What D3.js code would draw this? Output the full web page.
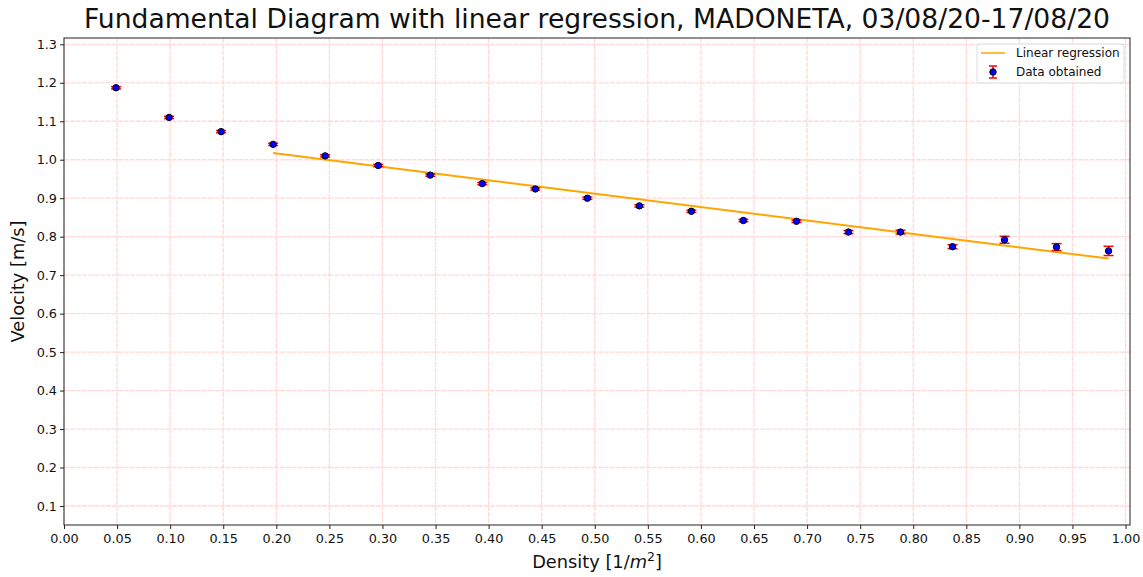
<!DOCTYPE html>
<html>
<head>
<meta charset="utf-8">
<script src="https://cdn.jsdelivr.net/npm/d3@7"></script>
<style>
  body { margin: 0; background: #fff; }
  text { font-family: "DejaVu Sans", sans-serif; fill: #111; }
</style>
</head>
<body>
<svg width="1143" height="577"></svg>
<script>
// density [1/m^2]
let density = [0.049, 0.099, 0.148, 0.197, 0.246, 0.296, 0.345, 0.394, 0.444, 0.493,
               0.542, 0.591, 0.640, 0.690, 0.739, 0.788, 0.837, 0.886, 0.935, 0.984];
// velocity [m/s]
let velocity = [1.187, 1.110, 1.073, 1.040, 1.010, 0.985, 0.960, 0.938, 0.924, 0.900,
                0.880, 0.866, 0.842, 0.840, 0.812, 0.812, 0.774, 0.792, 0.773, 0.763];
let velErr = [0.003, 0.003, 0.003, 0.003, 0.003, 0.003, 0.003, 0.003, 0.003, 0.003,
              0.003, 0.003, 0.003, 0.003, 0.004, 0.005, 0.005, 0.009, 0.009, 0.012];
// regression line end points
let regX = [0.197, 0.984];
let regY = [1.0176, 0.743];

let xTicks = d3.range(0, 21).map(i => i * 0.05);
let yTicks = d3.range(1, 14).map(i => i / 10);

let margin = {top: 38, right: 13, bottom: 52, left: 64};
let width = 1143 - margin.left - margin.right;
let height = 577 - margin.top - margin.bottom;

let scale = {
  x: d3.scaleLinear().domain([0, 1.0042]).range([0, width]),
  y: d3.scaleLinear().domain([0.0506, 1.3164]).range([height, 0])
};

let svg = d3.select("svg")
  .append("g")
    .attr("transform", "translate(" + margin.left + "," + margin.top + ")");

// grid
let gridStyle = g => g.attr("stroke", "#ffdada").attr("stroke-width", 1.3)
  .attr("stroke-dasharray", "5,1");
svg.append("g").selectAll("line").data(xTicks).enter().append("line")
  .attr("x1", d => scale.x(d)).attr("x2", d => scale.x(d))
  .attr("y1", 0).attr("y2", height)
  .call(gridStyle);
svg.append("g").selectAll("line").data(yTicks).enter().append("line")
  .attr("x1", 0).attr("x2", width)
  .attr("y1", d => scale.y(d)).attr("y2", d => scale.y(d))
  .call(gridStyle);

// axes
let axes = {
  x: d3.axisBottom(scale.x).tickValues(xTicks).tickFormat(d3.format(".2f")).tickSize(4).tickPadding(3),
  y: d3.axisLeft(scale.y).tickValues(yTicks).tickFormat(d3.format(".1f")).tickSize(4).tickPadding(3)
};
let gx = svg.append("g").attr("transform", "translate(0," + height + ")").call(axes.x);
let gy = svg.append("g").call(axes.y);
[gx, gy].forEach(g => {
  g.select(".domain").remove();
  g.selectAll("text").style("font-family", "DejaVu Sans").style("font-size", "12.8px").attr("fill", "#111");
  g.selectAll("line").attr("stroke", "#222");
});
gx.selectAll("text").attr("dy", "0.85em");

// frame
svg.append("rect")
  .attr("width", width).attr("height", height)
  .attr("fill", "none").attr("stroke", "#222").attr("stroke-width", 1);

// regression line
svg.append("line")
  .attr("x1", scale.x(regX[0])).attr("y1", scale.y(regY[0]))
  .attr("x2", scale.x(regX[1])).attr("y2", scale.y(regY[1]))
  .attr("stroke", "orange").attr("stroke-width", 2);

// error bars
let pts = density.map((d, i) => ({x: d, y: velocity[i], e: velErr[i]}));
let eb = svg.append("g").selectAll("g").data(pts).enter().append("g")
  .attr("stroke", "red").attr("stroke-width", 1.5);
eb.append("line")
  .attr("x1", d => scale.x(d.x)).attr("x2", d => scale.x(d.x))
  .attr("y1", d => scale.y(d.y - d.e)).attr("y2", d => scale.y(d.y + d.e));
[-1, 1].forEach(s => {
  eb.append("line")
    .attr("x1", d => scale.x(d.x) - 5).attr("x2", d => scale.x(d.x) + 5)
    .attr("y1", d => scale.y(d.y + s * d.e)).attr("y2", d => scale.y(d.y + s * d.e));
});

svg.append("g").selectAll("circle").data(pts).enter().append("circle")
  .attr("cx", d => scale.x(d.x)).attr("cy", d => scale.y(d.y))
  .attr("r", 3.2)
  .attr("fill", "blue").attr("stroke", "black").attr("stroke-width", 1);

// legend
let lg = svg.append("g").attr("transform", "translate(" + (977 - margin.left) + "," + (44 - margin.top) + ")");
lg.append("rect").attr("width", 147).attr("height", 39).attr("rx", 3)
  .attr("fill", "rgba(255,255,255,0.8)").attr("stroke", "#ddd");
lg.append("line").attr("x1", 4).attr("x2", 28).attr("y1", 9).attr("y2", 9)
  .attr("stroke", "orange").attr("stroke-width", 1.5);
lg.append("text").attr("x", 39).attr("y", 13).style("font-size", "12px").text("Linear regression");
lg.append("line").attr("x1", 16).attr("x2", 16).attr("y1", 22).attr("y2", 34)
  .attr("stroke", "red").attr("stroke-width", 1.5);
[22, 34].forEach(yy => lg.append("line").attr("x1", 12).attr("x2", 20).attr("y1", yy).attr("y2", yy)
  .attr("stroke", "red").attr("stroke-width", 1.5));
lg.append("circle").attr("cx", 16).attr("cy", 28).attr("r", 3.2)
  .attr("fill", "blue").attr("stroke", "black");
lg.append("text").attr("x", 39).attr("y", 32).style("font-size", "12px").text("Data obtained");

// labels
let root = d3.select("svg");
root.append("text")
  .attr("x", 597).attr("y", 28)
  .attr("text-anchor", "middle")
  .style("font-size", "26.6px")
  .text("Fundamental Diagram with linear regression, MADONETA, 03/08/20-17/08/20");

let xl = root.append("text")
  .attr("x", 597).attr("y", 568)
  .attr("text-anchor", "middle")
  .style("font-size", "17.8px");
xl.append("tspan").text("Density [1/");
xl.append("tspan").style("font-style", "italic").text("m");
xl.append("tspan").attr("dy", -7).style("font-size", "12.5px").text("2");
xl.append("tspan").attr("dy", 7).text("]");

root.append("text")
  .attr("transform", "translate(24," + (margin.top + height / 2) + ") rotate(-90)")
  .attr("text-anchor", "middle")
  .style("font-size", "17.8px")
  .text("Velocity [m/s]");
</script>
</body>
</html>
